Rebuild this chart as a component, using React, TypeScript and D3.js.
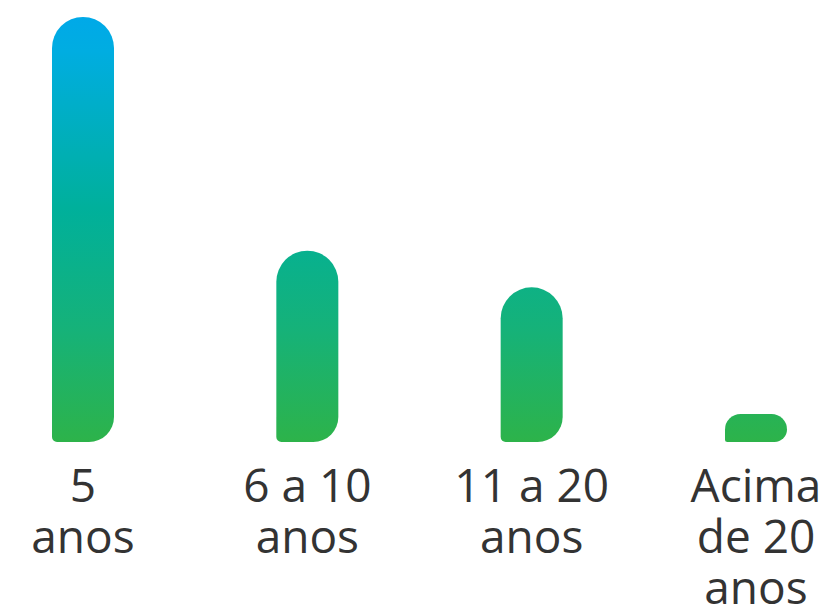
import React from "react";
import * as d3 from "d3";

const categories: string[][] = [["5", "anos"], ["6 a 10", "anos"], ["11 a 20", "anos"], ["Acima", "de 20", "anos"]];
const values: number[] = [50, 22.5, 18.2, 3.3];
const gradientStops: [number, string][] = [
  [0, "#00A9E8"],
  [0.08, "#00ADE1"],
  [0.45, "#00B09B"],
  [0.74, "#16B278"],
  [1, "#2DB34A"],
];

const W = 835;
const H = 612;

function barPath(x: number, y: number, w: number, h: number, tl0: number, tr0: number, br0: number, bl0: number) {
  const f = Math.min(1, h / (tl0 + bl0), h / (tr0 + br0), w / (tl0 + tr0), w / (bl0 + br0));
  const tl = tl0 * f, tr = tr0 * f, br = br0 * f, bl = bl0 * f;
  const p = d3.path();
  p.moveTo(x + tl, y);
  p.lineTo(x + w - tr, y);
  p.arcTo(x + w, y, x + w, y + tr, tr);
  p.lineTo(x + w, y + h - br);
  p.arcTo(x + w, y + h, x + w - br, y + h, br);
  p.lineTo(x + bl, y + h);
  p.arcTo(x, y + h, x, y + h - bl, bl);
  p.lineTo(x, y + tl);
  p.arcTo(x, y, x + tl, y, tl);
  p.closePath();
  return p.toString();
}

export default function App() {
  const keys = categories.map((c) => c.join(" "));
  const x = d3.scalePoint<string>().domain(keys).range([83, 756]).padding(0);
  const y = d3.scaleLinear().domain([0, d3.max(values) as number]).range([442, 17]);
  const bw = 62;
  const lineH = 51;
  const firstBaseline = 502;

  return (
    <svg width={W} height={H} style={{ position: "absolute", left: 0, top: 0 }}>
      <defs>
        <linearGradient id="barGrad" gradientUnits="userSpaceOnUse" x1={0} x2={0} y1={y(d3.max(values) as number)} y2={y(0)}>
          {gradientStops.map(([o, c], i) => (
            <stop key={i} offset={o} stopColor={c} />
          ))}
        </linearGradient>
      </defs>
      {values.map((v, i) => {
        const cx = x(keys[i]) as number;
        const top = y(v);
        const h = y(0) - top;
        return <path key={i} d={barPath(cx - bw / 2, top, bw, h, 31, 31, 25, 5)} fill="url(#barGrad)" />;
      })}
      {categories.map((lines, i) => (
        <text
          key={i}
          x={x(keys[i]) as number}
          textAnchor="middle"
          fontFamily="'Open Sans', sans-serif"
          fontSize={46}
          fill="#333333"
        >
          {lines.map((l, j) => (
            <tspan key={j} x={x(keys[i]) as number} y={firstBaseline + j * lineH}>
              {l}
            </tspan>
          ))}
        </text>
      ))}
    </svg>
  );
}
